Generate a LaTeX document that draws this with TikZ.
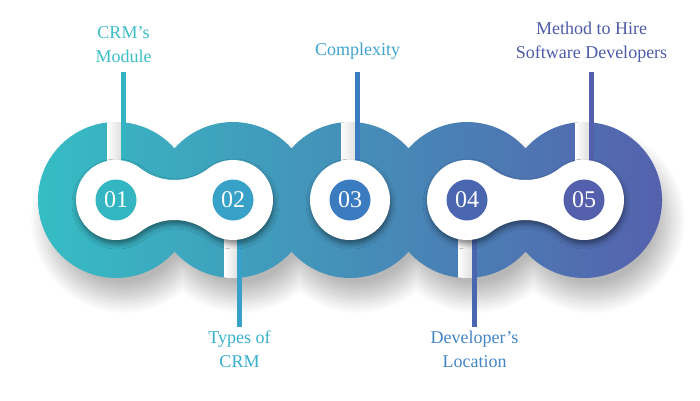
\documentclass[tikz,border=0pt]{standalone}
\usepackage{fontspec}
\setmainfont{Liberation Serif}
\usetikzlibrary{shadows.blur}

\definecolor{crmteal}{HTML}{35BEC4}
\definecolor{crmblue}{HTML}{3A7DC1}
\definecolor{crmindigo}{HTML}{5560AD}
\definecolor{numone}{HTML}{33B6C2}
\definecolor{numtwo}{HTML}{37A1C8}
\definecolor{numthree}{HTML}{3B7CC1}
\definecolor{numfour}{HTML}{4A66B1}
\definecolor{numfive}{HTML}{5460AD}
\definecolor{labone}{HTML}{3CBEC6}
\definecolor{labtwo}{HTML}{38AFCB}
\definecolor{labthree}{HTML}{3EA4CD}
\definecolor{labfour}{HTML}{4285C4}
\definecolor{labfive}{HTML}{4D5BA8}

\tikzset{
    numdisc/.style = {
        circle,
        minimum size=41pt,
        inner sep=0pt,
        text=white,
        font=\fontsize{24}{24}\selectfont
    },
    topic/.style = {
        align=center,
        inner sep=0pt,
        font=\fontsize{18}{24}\selectfont
    },
    leader/.style = {line width=5.5pt, draw=#1},
    gapstrip/.style = {left color=white, right color=black!12},
    plate/.style = {
        fill=white,
        blur shadow={shadow xshift=1pt, shadow yshift=-4pt,
            shadow blur radius=5pt, shadow opacity=45}
    }
}

% outline of the five overlapping rings
\newcommand{\crmring}{(116,0) ++(41.4:78)
    arc[start angle=41.4, end angle=318.6, radius=78]
    arc[start angle=221.4, end angle=318.6, radius=78]
    arc[start angle=221.4, end angle=318.6, radius=78]
    arc[start angle=221.4, end angle=318.6, radius=78]
    arc[start angle=221.4, end angle=498.6, radius=78]
    arc[start angle=41.4, end angle=138.6, radius=78]
    arc[start angle=41.4, end angle=138.6, radius=78]
    arc[start angle=41.4, end angle=138.6, radius=78] -- cycle}

% white plate joining two neighbouring discs
\newcommand{\crmlink}[1]{(#1,0) ++(52.25:40)
    arc[start angle=52.25, end angle=307.75, radius=40]
    arc[start angle=127.75, end angle=52.25, radius=55.56]
    arc[start angle=-127.75, end angle=127.75, radius=40]
    arc[start angle=307.75, end angle=232.25, radius=55.56] -- cycle}

\begin{document}
\begin{tikzpicture}[x=1pt, y=1pt]
\useasboundingbox (0,-200) rectangle (700,200);

\coordinate (c1) at (116,0);
\coordinate (c2) at (233,0);
\coordinate (c3) at (350,0);
\coordinate (c4) at (467,0);
\coordinate (c5) at (584,0);

% ring band
\shade[left color=crmteal, middle color=crmblue, right color=crmindigo,
    blur shadow={shadow xshift=8pt, shadow yshift=-20pt,
        shadow blur radius=16pt, shadow opacity=28,
        shadow blur steps=28}] \crmring;

% cuts in the band
\begin{scope}
\clip \crmring;
\shade[gapstrip] (107,0) rectangle (121,85);
\shade[gapstrip] (341,0) rectangle (355,85);
\shade[gapstrip] (575,0) rectangle (589,85);
\shade[gapstrip] (224,0) rectangle (238,-80);
\shade[gapstrip] (458,0) rectangle (472,-80);
\end{scope}

% labels
\node (l1) [topic, text=labone, anchor=south] at (123.5,137) {CRM’s\\Module};
\node (l3) [topic, text=labthree, anchor=south] at (357.5,140) {Complexity};
\node (l5) [topic, text=labfive, anchor=south] at (591.5,137)
{Method to Hire\\Software Developers};
\node (l2) [topic, text=labtwo, anchor=north] at (239.5,-131) {Types of\\CRM};
\node (l4) [topic, text=labfour, anchor=north] at (474.5,-131)
{Developer’s\\Location};

% leader lines
\draw [leader=numone] ([yshift=-9pt]l1.south) -- (l1.south |- c1);
\draw [leader=numthree] ([yshift=-12pt]l3.south) -- (l3.south |- c3);
\draw [leader=numfive] ([yshift=-9pt]l5.south) -- (l5.south |- c5);
\draw [leader=numtwo] ([yshift=4pt]l2.north) -- (l2.north |- c2);
\draw [leader=numfour] ([yshift=4pt]l4.north) -- (l4.north |- c4);

% white plates
\fill [plate] \crmlink{116};
\fill [plate] (350,0) circle (40);
\fill [plate] \crmlink{467};

% numbers
\node (n1) [numdisc, fill=numone] at (c1) {01};
\node (n2) [numdisc, fill=numtwo] at (c2) {02};
\node (n3) [numdisc, fill=numthree] at (c3) {03};
\node (n4) [numdisc, fill=numfour] at (c4) {04};
\node (n5) [numdisc, fill=numfive] at (c5) {05};

\end{tikzpicture}
\end{document}
